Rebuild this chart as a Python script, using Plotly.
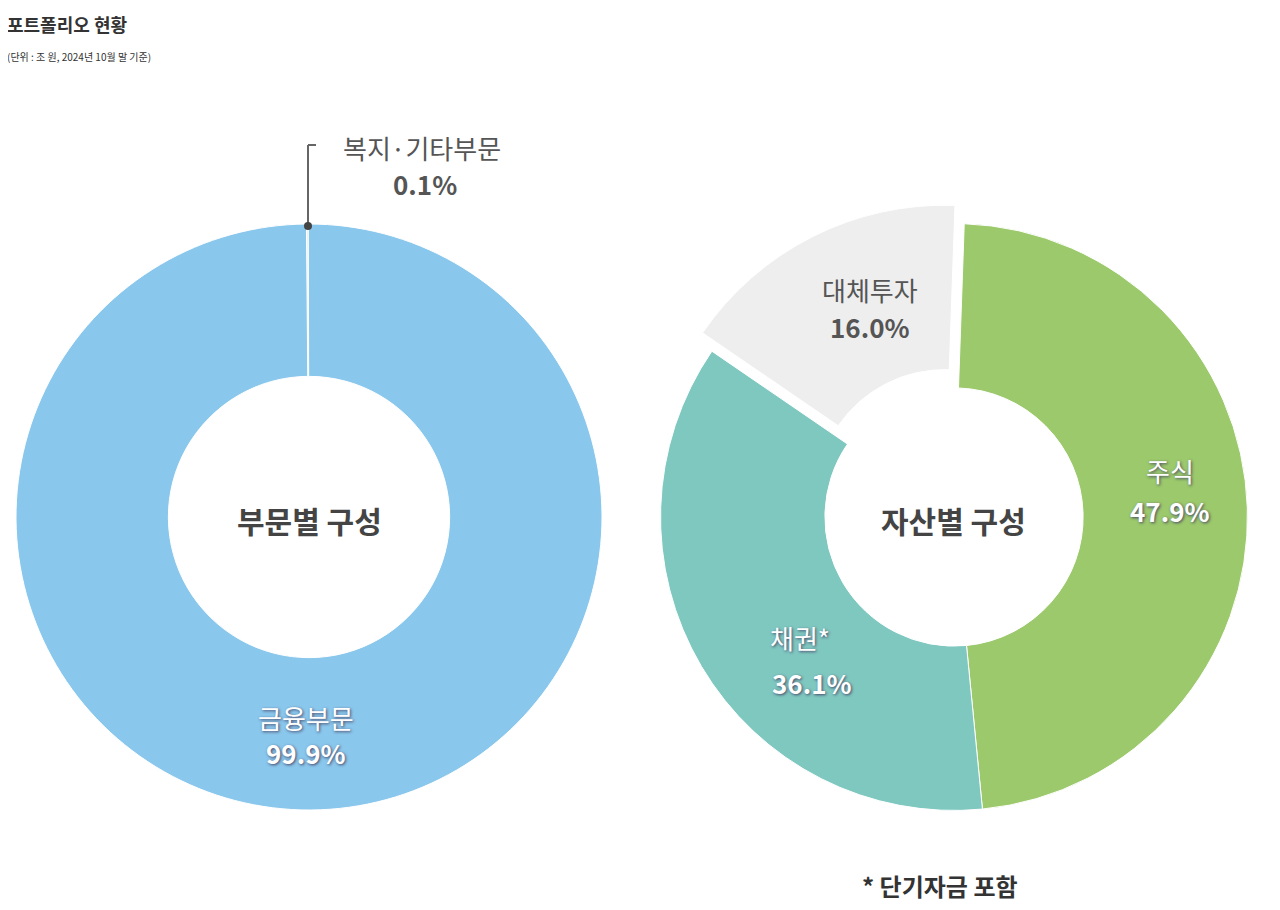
import plotly.graph_objects as go

sector_labels = ["복지·기타부문", "금융부문"]
sector_values = [0.1, 99.9]
asset_labels = ["주식", "채권*", "대체투자"]
asset_values = [47.9, 36.1, 16.0]

FONT = "Noto Sans CJK KR"
W, H = 1280, 910
OFF = 8
def px(x): return (x - OFF) / W
def py(y): return 1 - (y - OFF) / H

fig = go.Figure()
fig.add_trace(go.Pie(labels=sector_labels, values=sector_values, hole=0.48, sort=False,
                     direction="clockwise", rotation=-0.5, textinfo="none", hoverinfo="label+percent",
                     marker=dict(colors=["#E9E9E9", "#8AC7EC"], line=dict(color="white", width=1)),
                     domain=dict(x=[px(16), px(602)], y=[py(810), py(224)]), showlegend=False))
fig.add_trace(go.Pie(labels=asset_labels, values=asset_values, hole=0.44, sort=False,
                     direction="clockwise", rotation=2, textinfo="none", hoverinfo="label+percent",
                     pull=[0, 0, 0.07],
                     marker=dict(colors=["#9CC96B", "#7FC8C0", "#EEEEEE"], line=dict(color="white", width=1)),
                     domain=dict(x=[px(640), px(1268)], y=[py(831), py(203)]), showlegend=False))

ann = []
def t(x, y, s, size=26, color="#555", bold=False, shadow="none", xanchor="center"):
    ann.append(dict(x=px(x), y=py(y), xref="paper", yref="paper", showarrow=False, xanchor=xanchor,
                    yanchor="middle", text=f"<b>{s}</b>" if bold else s,
                    font=dict(family=FONT, size=size, color=color, shadow=shadow)))

t(5, 24, "포트폴리오 현황", size=18, color="#333", bold=True, xanchor="left")
t(5, 56, "(단위 : 조 원, 2024년 10월 말 기준)", size=10, color="#333", xanchor="left")
t(309, 520, "부문별 구성", size=30, color="#444", bold=True)
t(953, 520, "자산별 구성", size=30, color="#444", bold=True)
sh = "1px 1px 3px #446"
t(422, 147, "복지·기타부문", size=26, color="#555")
t(425, 184, "0.1%", size=26, color="#555", bold=True)
t(306, 717, sector_labels[1], size=26, color="white", shadow=sh)
t(306, 752, f"{sector_values[1]}%", size=26, color="white", bold=True, shadow=sh)
t(870, 289, asset_labels[2], size=26, color="#555")
t(870, 326, f"{asset_values[2]}%", size=26, color="#555", bold=True)
t(1170, 470, asset_labels[0], size=26, color="white", shadow=sh)
t(1170, 510, f"{asset_values[0]}%", size=26, color="white", bold=True, shadow=sh)
t(800, 637, asset_labels[1], size=26, color="white", shadow=sh)
t(812, 682, f"{asset_values[1]}%", size=26, color="white", bold=True, shadow=sh)
t(940, 885, "* 단기자금 포함", size=24, color="#333", bold=True)

shapes = [
    dict(type="line", xref="paper", yref="paper", x0=px(308), x1=px(308), y0=py(226), y1=py(145),
         line=dict(color="#666", width=2)),
    dict(type="line", xref="paper", yref="paper", x0=px(308), x1=px(316), y0=py(145), y1=py(145),
         line=dict(color="#666", width=2)),
    dict(type="circle", xref="paper", yref="paper", x0=px(304), x1=px(312), y0=py(230), y1=py(222),
         fillcolor="#444", line=dict(width=0)),
]

fig.update_layout(width=W, height=H, margin=dict(l=0, r=0, t=0, b=0), paper_bgcolor="white",
                  annotations=ann, shapes=shapes, font=dict(family=FONT))
fig.write_html("out.html")
